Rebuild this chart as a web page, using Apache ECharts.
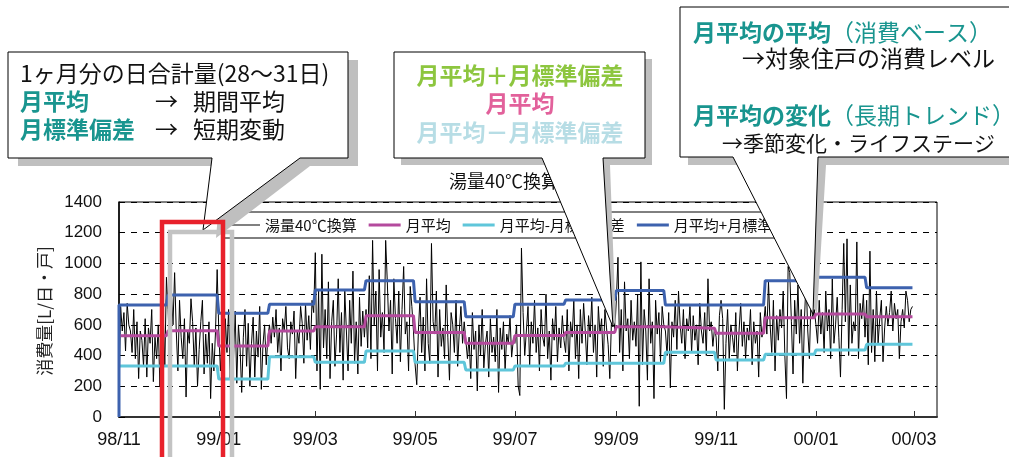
<!DOCTYPE html>
<html>
<head>
<meta charset="utf-8">
<script src="https://cdn.jsdelivr.net/npm/echarts@6/dist/echarts.min.js"></script>
<style>
  html, body { margin: 0; padding: 0; background: #fff; }
  #chart { width: 1009px; height: 457px; }
</style>
</head>
<body>
<div id="chart"></div>
<script>
// 月 (98/11 - 00/02)
var monthNames = ['98/11', '98/12', '99/01', '99/02', '99/03', '99/04', '99/05', '99/06',
                  '99/07', '99/08', '99/09', '99/10', '99/11', '99/12', '00/01', '00/02'];
var monthMean  = [529, 562, 462, 560, 588, 660, 551, 480, 530, 551, 588, 578, 545, 647, 671, 653];
var monthUpper = [729, 794, 675, 734, 827, 888, 751, 653, 734, 762, 823, 729, 729, 888, 910, 842];
var monthLower = [332, 332, 247, 393, 356, 430, 356, 306, 332, 350, 350, 421, 371, 408, 436, 473];

// 日合計量 (湯量40℃換算)
var d9811 = [130, 720, 560, 680, 430, 740, 600, 560, 420, 700, 380, 620, 250, 560, 500, 330, 640, 260, 580, 480, 700, 230, 520, 380, 600, 200, 460, 680, 330, 910];
var d9812 = [700, 420, 820, 600, 940, 560, 300, 760, 520, 380, 640, 130, 560, 480, 770, 620, 330, 580, 200, 440, 620, 760, 280, 540, 350, 620, 120, 480, 300, 560, 960];
var d9901 = [560, 300, 520, 180, 640, 420, 700, 250, 560, 380, 690, 220, 600, 450, 160, 520, 700, 330, 610, 200, 480, 650, 260, 560, 390, 720, 180, 470, 600, 340, 520];
var d9902 = [600, 480, 650, 520, 700, 420, 580, 300, 640, 560, 720, 450, 380, 620, 540, 690, 250, 560, 480, 720, 610, 350, 740, 500, 660, 440, 760, 680];
var d9903 = [1070, 300, 820, 180, 1060, 450, 700, 380, 880, 250, 620, 760, 330, 540, 900, 420, 680, 240, 820, 560, 300, 760, 480, 950, 350, 620, 280, 780, 460, 690, 520];
var d9904 = [700, 450, 920, 380, 1150, 600, 820, 300, 960, 520, 680, 420, 1150, 880, 560, 760, 280, 900, 640, 480, 820, 360, 700, 980, 540, 620, 300, 850, 720, 560];
var d9905 = [340, 210, 560, 780, 420, 650, 300, 900, 480, 350, 1130, 620, 540, 820, 260, 700, 460, 580, 380, 860, 520, 240, 680, 600, 420, 760, 330, 560, 720, 480, 620];
var d9906 = [620, 380, 520, 250, 680, 440, 560, 170, 600, 400, 700, 320, 480, 560, 260, 640, 420, 520, 360, 700, 160, 580, 440, 620, 300, 540, 480, 660, 390, 500];
var d9907 = [480, 600, 200, 140, 1100, 680, 400, 560, 720, 330, 620, 480, 760, 420, 580, 300, 700, 520, 460, 800, 380, 560, 240, 640, 500, 720, 360, 580, 450, 660, 500];
var d9908 = [420, 700, 300, 620, 520, 760, 380, 600, 250, 700, 480, 740, 560, 340, 660, 520, 780, 420, 600, 260, 720, 540, 640, 330, 700, 580, 470, 250, 620, 720, 560];
var d9909 = [760, 1040, 420, 700, 300, 880, 560, 640, 380, 760, 500, 620, 460, 800, 70, 1010, 340, 700, 560, 240, 900, 480, 620, 120, 760, 540, 680, 360, 720, 600];
var d9910 = [560, 400, 680, 190, 620, 520, 760, 440, 820, 600, 480, 700, 380, 640, 560, 720, 420, 660, 500, 600, 340, 740, 560, 480, 680, 400, 900, 560, 620, 460, 580];
var d9911 = [520, 300, 660, 760, 640, 50, 480, 700, 380, 600, 520, 420, 680, 300, 560, 740, 460, 620, 380, 580, 500, 700, 340, 620, 480, 560, 260, 680, 520, 600];
var d9912 = [720, 540, 880, 600, 420, 760, 300, 660, 500, 700, 580, 820, 400, 120, 980, 940, 620, 280, 760, 540, 860, 480, 700, 220, 640, 900, 560, 380, 780, 640, 700];
var d0001 = [600, 480, 760, 540, 680, 420, 820, 560, 700, 380, 900, 480, 600, 780, 520, 260, 700, 1130, 620, 1160, 400, 860, 480, 620, 560, 1140, 380, 740, 640, 800, 520];
var d0002 = [760, 340, 1080, 420, 700, 360, 820, 480, 640, 760, 360, 580, 720, 600, 680, 820, 560, 740, 640, 700, 380, 620, 700, 580, 820, 760, 620, 700, 720];
var dailyMonths = [d9811, d9812, d9901, d9902, d9903, d9904, d9905, d9906,
                   d9907, d9908, d9909, d9910, d9911, d9912, d0001, d0002];

// x軸目盛 (98/11/1 からの日数)
var tickDays   = [0, 61, 120, 181, 242, 304, 365, 426, 486];
var tickLabels = ['98/11', '99/01', '99/03', '99/05', '99/07', '99/09', '99/11', '00/01', '00/03'];

var seriesNames = ['湯量40℃換算', '月平均', '月平均-月標準偏差', '月平均+月標準偏差'];

var JP = 'Noto Sans CJK JP';
var TEAL = '#19958f';

// データ組み立て
var dailyData = [];
var monthStart = [];
var day = 0;
dailyMonths.forEach(function(arr) {
    monthStart.push(day);
    arr.forEach(function(v) {
        dailyData.push([day, v]);
        day++;
    });
});

function stepData(values) {
    var out = [];
    values.forEach(function(v, i) {
        var s = monthStart[i];
        out.push([s, v]);
        out.push([s + dailyMonths[i].length - 1, v]);
    });
    return out;
}

var upperData = [[0, 0]].concat(stepData(monthUpper));

function callout(points, shadow, z) {
    return [
        { type: 'polygon', z: z, silent: true, shape: { points: shadow }, style: { fill: '#bfbfbf' } },
        { type: 'polygon', z: z + 1, silent: true, shape: { points: points }, style: { fill: '#fff', stroke: '#000', lineWidth: 1 } }
    ];
}

function shift(points, dx, dy, tipIndex, tipDx, tipDy) {
    return points.map(function(p, i) {
        if (i === tipIndex) return [p[0] + tipDx, p[1] + tipDy];
        return [p[0] + dx, p[1] + dy];
    });
}

var leftBox = [[8, 52], [348, 52], [348, 158], [300, 158], [203, 230], [212, 158], [8, 158]];
var midBox = [[394, 52], [645, 52], [645, 158], [603, 158], [613, 327], [542, 158], [394, 158]];
var rightBox = [[680, 7], [1015, 7], [1015, 157], [818, 157], [813, 314], [733, 157], [680, 157]];

function txt(x, y, text, opts) {
    opts = opts || {};
    return {
        type: 'text', z: 120, silent: true, x: x, y: y,
        style: {
            text: text,
            font: (opts.weight || 'normal') + ' ' + (opts.size || 23) + 'px "' + JP + '"',
            fill: opts.color || '#111',
            textAlign: opts.align || 'left',
            align: opts.align || 'left',
            textVerticalAlign: 'middle',
            verticalAlign: 'middle',
            rich: opts.rich
        }
    };
}

var richTeal = {
    b: { fontFamily: JP, fontSize: 23, fontWeight: 'bold', fill: TEAL, color: TEAL },
    n: { fontFamily: JP, fontSize: 23, fontWeight: 'normal', fill: TEAL, color: TEAL }
};

var graphics = []
    .concat(callout(leftBox, shift(leftBox, 10, 8, 4, 13, 8), 100))
    .concat(callout(midBox, shift(midBox, 7, 7, 4, 3, 0), 100))
    .concat(callout(rightBox, shift(rightBox, 8, 8, 4, 4, 0), 100))
    .concat([
        txt(20, 73, '1ヶ月分の日合計量(28〜31日)'),
        txt(20, 101, '月平均', { weight: 'bold', color: TEAL }),
        txt(155, 101, '→'),
        txt(193, 101, '期間平均'),
        txt(20, 129, '月標準偏差', { weight: 'bold', color: TEAL }),
        txt(155, 129, '→'),
        txt(193, 129, '短期変動'),

        txt(520, 75, '月平均＋月標準偏差', { weight: 'bold', color: '#8dc63f', align: 'center' }),
        txt(520, 103, '月平均', { weight: 'bold', color: '#e2619b', align: 'center' }),
        txt(520, 132, '月平均－月標準偏差', { weight: 'bold', color: '#b7dde5', align: 'center' }),

        txt(693, 32, '{b|月平均の平均}{n|（消費ベース）}', { rich: richTeal }),
        txt(742, 58, '→対象住戸の消費レベル'),
        txt(693, 115, '{b|月平均の変化}{n|（長期トレンド）}', { rich: richTeal }),
        txt(722, 143, '→季節変化・ライフステージ', { size: 21 }),

        {
            type: 'text', z: 50, silent: true, x: 45, y: 311, rotation: Math.PI / 2,
            style: {
                text: '消費量[L/日・戸]', font: '17px "' + JP + '"', fill: '#222',
                textAlign: 'center', align: 'center', textVerticalAlign: 'middle', verticalAlign: 'middle'
            }
        },

        { type: 'rect', z: 130, silent: true, shape: { x: 170, y: 232, width: 62, height: 260 },
          style: { fill: 'none', stroke: '#c3c3c3', lineWidth: 4.5 } },
        { type: 'rect', z: 131, silent: true, shape: { x: 162, y: 222, width: 61, height: 270 },
          style: { fill: 'none', stroke: '#e8212b', lineWidth: 4.5 } }
    ]);

var chart = echarts.init(document.getElementById('chart'));

chart.setOption({
    animation: false,
    backgroundColor: '#fff',
    title: {
        text: '湯量40℃換算',
        left: 449,
        top: 172,
        padding: 0,
        textStyle: { fontSize: 18, fontWeight: 'normal', color: '#111', fontFamily: JP }
    },
    legend: {
        data: [
            { name: seriesNames[0], icon: 'path://M0,0H32V1H0Z' },
            { name: seriesNames[1], icon: 'rect' },
            { name: seriesNames[2], icon: 'rect' },
            { name: seriesNames[3], icon: 'rect' }
        ],
        left: 222,
        top: 212,
        itemWidth: 32,
        itemHeight: 3,
        itemGap: 12,
        padding: [4, 6],
        borderColor: '#000',
        borderWidth: 1,
        backgroundColor: '#fff',
        textStyle: { fontSize: 15, color: '#111', fontFamily: JP, lineHeight: 18 }
    },
    grid: {
        left: 119,
        top: 202,
        right: 72,
        bottom: 40,
        show: true,
        borderColor: '#000',
        borderWidth: 1
    },
    xAxis: {
        type: 'value',
        min: 0,
        max: 500,
        axisLine: { lineStyle: { color: '#333', width: 2 } },
        axisTick: { inside: true, length: 6, customValues: tickDays, lineStyle: { color: '#333' } },
        axisLabel: {
            customValues: tickDays,
            margin: 14,
            fontSize: 18,
            color: '#111',
            fontFamily: 'Liberation Sans',
            formatter: function(v) {
                var i = tickDays.indexOf(v);
                return i >= 0 ? tickLabels[i] : '';
            }
        },
        splitLine: { show: false }
    },
    yAxis: {
        type: 'value',
        min: 0,
        max: 1400,
        interval: 200,
        axisLine: { show: true, lineStyle: { color: '#000', width: 1.5 } },
        axisTick: { show: true, inside: true, length: 6, lineStyle: { color: '#000' } },
        axisLabel: {
            margin: 17, fontSize: 17, color: '#111', fontFamily: 'Liberation Sans',
            formatter: function(v) { return String(v); }
        },
        splitLine: { lineStyle: { type: [6, 6], color: '#000', width: 1 } }
    },
    series: [
        {
            name: seriesNames[0], type: 'line', data: dailyData, symbol: 'none', z: 2,
            itemStyle: { color: '#000' }, lineStyle: { color: '#000', width: 1 }
        },
        {
            name: seriesNames[1], type: 'line', data: stepData(monthMean), symbol: 'none', z: 3,
            itemStyle: { color: '#b44a9d' }, lineStyle: { color: '#b44a9d', width: 3 }
        },
        {
            name: seriesNames[2], type: 'line', data: stepData(monthLower), symbol: 'none', z: 3,
            itemStyle: { color: '#5fc6da' }, lineStyle: { color: '#5fc6da', width: 3 }
        },
        {
            name: seriesNames[3], type: 'line', data: upperData, symbol: 'none', z: 4,
            itemStyle: { color: '#3d62ae' }, lineStyle: { color: '#3d62ae', width: 3 }
        }
    ],
    graphic: { elements: graphics }
});
</script>
</body>
</html>
